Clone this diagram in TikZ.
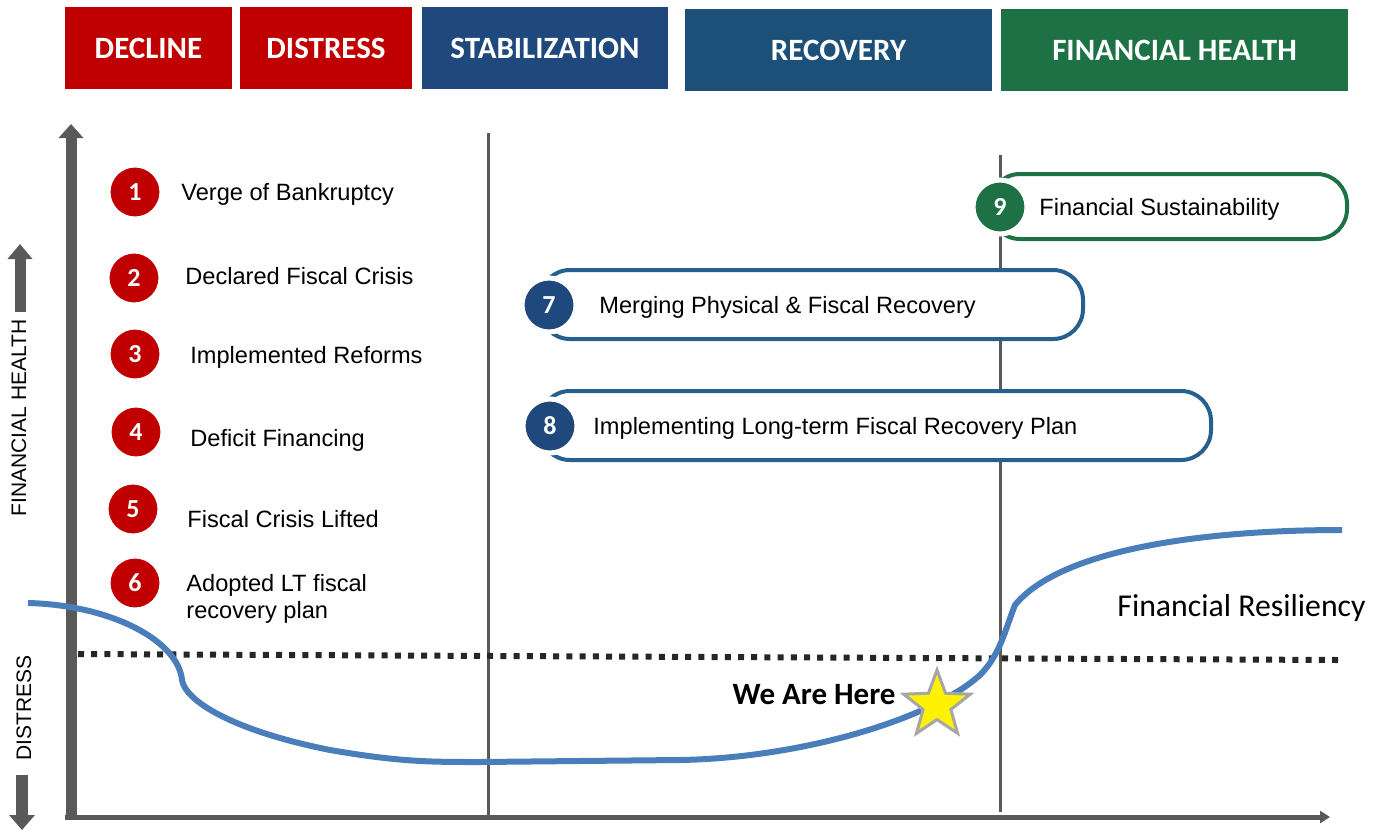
\documentclass[tikz,border=0pt]{standalone}
\usepackage{fontspec}
\setmainfont{Liberation Sans}
\newfontfamily\calibri{Carlito}
\usetikzlibrary{arrows.meta,shapes.geometric}
\definecolor{phasered}{HTML}{C00000}
\definecolor{phaseblue}{HTML}{1F497D}
\definecolor{phaseteal}{HTML}{1D5078}
\definecolor{phasegreen}{HTML}{1E7145}
\definecolor{boxblue}{HTML}{25608F}
\definecolor{axisgray}{HTML}{595959}
\definecolor{curveblue}{HTML}{4A7EBB}
\begin{document}
\begin{tikzpicture}[x=0.5pt,y=-0.5pt,
  phase/.style={fill=#1,text=white,inner sep=0pt,minimum height=41pt,
    font=\calibri\bfseries\fontsize{15.5}{18}\selectfont},
  num/.style={circle,fill=#1,draw=white,line width=2.5pt,minimum size=27pt,
    inner sep=0pt,text=white,font=\calibri\bfseries\fontsize{13}{15}\selectfont},
  stagebox/.style={draw=#1,fill=white,line width=2pt,rounded corners=15pt,inner sep=0pt},
  item/.style={anchor=west,inner sep=0pt,font=\fontsize{11.8}{13.8}\selectfont},
  axis/.style={draw=axisgray},
  sep/.style={draw=axisgray,line width=1.5pt}]
  \useasboundingbox (0,0) rectangle (1379,830);

  % phases along the top
  \node[phase=phasered,minimum width=83.5pt] (decline) at (148.5,48) {DECLINE};
  \node[phase=phasered,minimum width=86pt] (distress) at (326,48) {DISTRESS};
  \node[phase=phaseblue,minimum width=123pt] (stabil) at (545,48) {STABILIZATION};
  \node[phase=phaseteal,minimum width=153.5pt] (recovery) at (838.5,50) {RECOVERY};
  \node[phase=phasegreen,minimum width=173.5pt] (health) at (1174.5,50) {FINANCIAL HEALTH};

  % axes
  \coordinate (ybot) at (71,818);
  \coordinate (ytop) at (71,124);
  \coordinate (xleft) at (65,817);
  \coordinate (xright) at (1330,817);
  \draw[axis,line width=2.5pt,-{Triangle[width=6pt,length=5pt]}] (xleft) -- (xright);
  \draw[axis,line width=5.5pt,-{Triangle[width=12pt,length=7pt]}] (ybot) -- (ytop);

  % side labels
  \coordinate (hup0) at (20,312);
  \coordinate (hup1) at (20,244);
  \coordinate (dwn0) at (22,775);
  \coordinate (dwn1) at (22,830);
  \draw[axis,line width=5.5pt,-{Triangle[width=12pt,length=7.5pt]}] (hup0) -- (hup1);
  \draw[axis,line width=6pt,-{Triangle[width=12.5pt,length=7.5pt]}] (dwn0) -- (dwn1);
  \node[rotate=90,inner sep=0pt,font=\fontsize{10.5}{12}\selectfont] (hlabel) at (19,418) {FINANCIAL HEALTH};
  \node[rotate=90,inner sep=0pt,font=\fontsize{10.5}{12}\selectfont] (dlabel) at (24,708) {DISTRESS};

  % separators
  \coordinate (s1top) at (488,133);
  \coordinate (s1bot) at (488,815);
  \coordinate (s2top) at (1000,155);
  \coordinate (s2bot) at (1000,812);
  \draw[sep] (s1top) -- (s1bot);
  \draw[sep] (s2top) -- (s2bot);

  % distress threshold
  \coordinate (d0) at (78,654);
  \coordinate (d1) at (1338,660);
  \draw[black!85,line width=3pt,dash pattern=on 3pt off 3.6pt] (d0) -- (d1);

  % steps 1-6
  \node[num=phasered] (c1) at (135,192) {1};
  \node[num=phasered] (c2) at (134,278) {2};
  \node[num=phasered] (c3) at (135,354) {3};
  \node[num=phasered] (c4) at (136,432) {4};
  \node[num=phasered] (c5) at (133,509) {5};
  \node[num=phasered] (c6) at (135,583) {6};
  \node[item] (t1) at (181,194) {Verge of Bankruptcy};
  \node[item] (t2) at (185,276) {Declared Fiscal Crisis};
  \node[item] (t3) at (190,357) {Implemented Reforms};
  \node[item] (t4) at (190,440) {Deficit Financing};
  \node[item] (t5) at (187,519) {Fiscal Crisis Lifted};
  \node[item,align=left] (t6) at (186,599) {Adopted LT fiscal\\recovery plan};

  % steps 7-9
  \node[stagebox=boxblue,minimum width=271.5pt,minimum height=34.5pt] (b7) at (811.5,304.5) {};
  \node[stagebox=boxblue,minimum width=335.5pt,minimum height=34.5pt] (b8) at (875.5,425.5) {};
  \node[stagebox=phasegreen,minimum width=178.5pt,minimum height=32.5pt] (b9) at (1168.5,206.5) {};
  \node[num=phaseblue] (c7) at (549,305) {7};
  \node[num=phaseblue] (c8) at (550,426) {8};
  \node[num=phasegreen] (c9) at (1000,207) {9};
  \node[item] (t7) at (599,307) {Merging Physical \& Fiscal Recovery};
  \node[item] (t8) at (593,428) {Implementing Long-term Fiscal Recovery Plan};
  \node[item] (t9) at (1039,209) {Financial Sustainability};

  % the curve
  \draw[curveblue,line width=3pt] (28,603)
    .. controls (110,605) and (178,640) .. (182,680)
    .. controls (185,700) and (230,730) .. (330,750)
    .. controls (400,762) and (430,762) .. (480,762)
    -- (680,760)
    .. controls (800,758) and (930,720) .. (980,675)
    .. controls (1000,655) and (1005,630) .. (1015,605)
    .. controls (1060,550) and (1200,530) .. (1342,530);

  \node[star,star points=5,star point ratio=2.4,fill=yellow,draw=black!35,line width=1.5pt,
    minimum size=35pt,inner sep=0pt] (here) at (937,705) {};
  \node[anchor=east,inner sep=0pt,font=\calibri\bfseries\fontsize{15.5}{18}\selectfont] (hereL) at (896,695) {We Are Here};
  \node[anchor=west,inner sep=0pt,font=\calibri\fontsize{15.9}{18}\selectfont] (resil) at (1117,608) {Financial Resiliency};
\end{tikzpicture}
\end{document}
